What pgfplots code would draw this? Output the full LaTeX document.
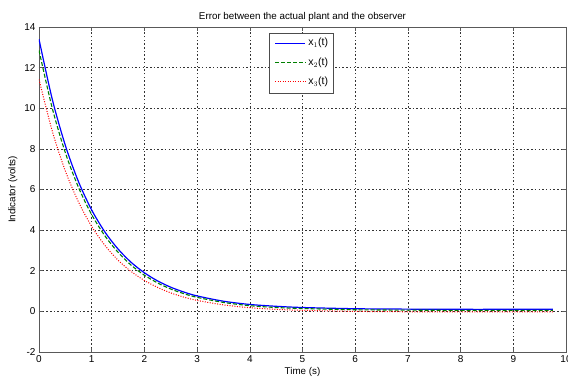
\documentclass[border=0pt]{standalone}
\usepackage{pgfplots}
\pgfplotsset{compat=1.18}
\usepackage{fontspec}
\setmainfont{Liberation Sans}
\begin{document}
\begin{tikzpicture}
\useasboundingbox (-39pt,-27pt) rectangle (529pt,352pt);
\begin{axis}[
  at={(0pt,0pt)}, anchor=south west,
  scale only axis, width=527pt, height=325pt,
  xmin=0, xmax=10, ymin=-2, ymax=14,
  xtick={0,1,...,10}, ytick={-2,0,...,14},
  /pgf/number format/assume math mode=true,
  font=\fontsize{9.8}{11}\selectfont,
  tick label style={font=\fontsize{10}{11}\selectfont},
  grid=major,
  major grid style={black!80, line width=0.5pt, dash pattern=on 1.5pt off 2.2pt},
  axis line style={black!65, line width=0.9pt},
  tick style={black!65, line width=0.6pt},
  tick align=inside,
  major tick length=4pt,
  title={Error between the actual plant and the observer},
  title style={yshift=-4pt},
  xlabel={Time (s)}, ylabel={Indicator (volts)},
  xlabel style={yshift=2pt},
  ylabel style={yshift=0pt},
]
\addplot[color=blue, line width=1.2pt, smooth] coordinates {
(0,13.40) (0.25,10.46) (0.5,8.17) (0.75,6.38) (1,4.99) (1.25,3.91) (1.5,3.07) (1.75,2.41) (2,1.90) (2.25,1.50) (2.5,1.19) (2.75,0.95) (3,0.76) (3.5,0.50) (4,0.34) (4.5,0.25) (5,0.19) (6,0.13) (7,0.11) (8,0.10) (9,0.10) (9.75,0.10)};
\addplot[color=green!50!black, line width=1.1pt, dash pattern=on 4pt off 2pt, smooth] coordinates {
(0,12.85) (0.25,10.02) (0.5,7.81) (0.75,6.10) (1,4.76) (1.25,3.72) (1.5,2.91) (1.75,2.27) (2,1.78) (2.25,1.40) (2.5,1.10) (2.75,0.87) (3,0.69) (3.5,0.44) (4,0.28) (4.5,0.19) (5,0.14) (6,0.08) (7,0.06) (8,0.05) (9,0.05) (9.75,0.05)};
\addplot[color=red, line width=1pt, dash pattern=on 1pt off 1.5pt, smooth] coordinates {
(0,11.42) (0.25,8.89) (0.5,6.91) (0.75,5.38) (1,4.18) (1.25,3.25) (1.5,2.52) (1.75,1.96) (2,1.52) (2.25,1.18) (2.5,0.91) (2.75,0.70) (3,0.54) (3.5,0.32) (4,0.18) (4.5,0.10) (5,0.05) (6,0.00) (7,-0.02) (8,-0.02) (9,-0.02) (9.75,-0.02)};
% legend box and entries
\draw[fill=white, draw=black!70, line width=0.6pt] (axis cs:4.364,13.705) rectangle (axis cs:5.579,10.751);
\addplot[color=blue, line width=1.2pt, forget plot] coordinates {(4.48,13.20) (5.05,13.20)};
\addplot[color=green!50!black, line width=1.1pt, dash pattern=on 4pt off 2pt, forget plot] coordinates {(4.48,12.24) (5.05,12.24)};
\addplot[color=red, line width=1pt, dash pattern=on 1pt off 1.5pt, forget plot] coordinates {(4.48,11.30) (5.05,11.30)};
\node[anchor=west, inner sep=0pt, font=\fontsize{10.5}{11}\selectfont] at (axis cs:5.11,13.20) {x$_1$(t)};
\node[anchor=west, inner sep=0pt, font=\fontsize{10.5}{11}\selectfont] at (axis cs:5.11,12.24) {x$_2$(t)};
\node[anchor=west, inner sep=0pt, font=\fontsize{10.5}{11}\selectfont] at (axis cs:5.11,11.30) {x$_3$(t)};
\end{axis}
\end{tikzpicture}
\end{document}
